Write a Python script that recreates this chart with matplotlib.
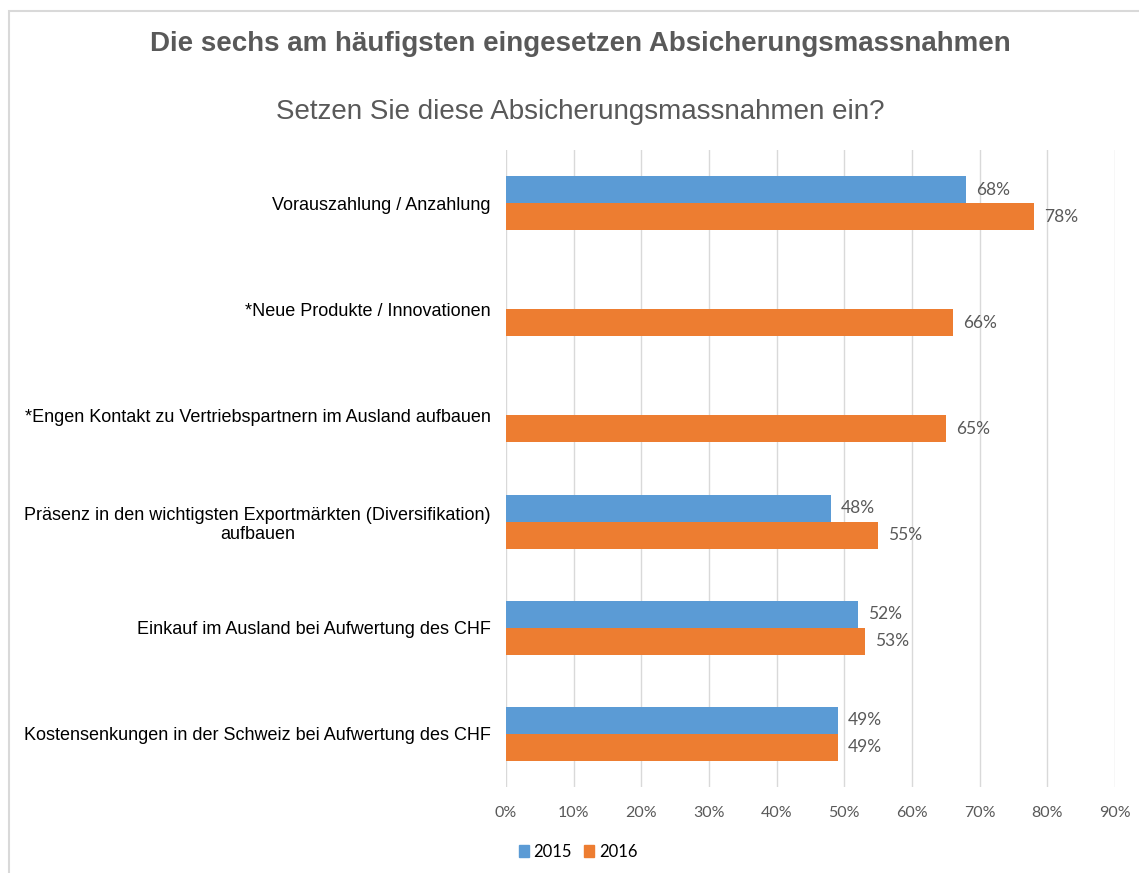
import numpy as np
import matplotlib.pyplot as plt
from matplotlib.patches import Patch, Rectangle

# Daten
kategorien = [
    "Vorauszahlung / Anzahlung",
    "*Neue Produkte / Innovationen",
    "*Engen Kontakt zu Vertriebspartnern im Ausland aufbauen",
    "Präsenz in den wichtigsten Exportmärkten (Diversifikation)\naufbauen",
    "Einkauf im Ausland bei Aufwertung des CHF",
    "Kostensenkungen in der Schweiz bei Aufwertung des CHF",
]
werte_2015 = [0.68, np.nan, np.nan, 0.48, 0.52, 0.49]
werte_2016 = [0.78, 0.66, 0.65, 0.55, 0.53, 0.49]
ticks = [0, 0.1, 0.2, 0.3, 0.4, 0.5, 0.6, 0.7, 0.8, 0.9]

blau = "#5B9BD5"
orange = "#ED7D31"
grau = "#595959"

plt.rcParams["font.family"] = ["Liberation Sans", "DejaVu Sans"]

fig = plt.figure(figsize=(11.39, 8.73), dpi=100)
ax = fig.add_axes([506 / 1139, 1 - 787 / 873, 609 / 1139, 637 / 873])

# Rahmen um das Diagramm
fig.patches.append(Rectangle((9 / 1139, -0.1), 1.2, 1 - 11 / 873 + 0.1,
                             transform=fig.transFigure, fill=False,
                             edgecolor="#D9D9D9", linewidth=1.5))

y = np.arange(len(kategorien))
h = 0.255
ax.barh(y - h / 2, werte_2015, height=h, color=blau)
ax.barh(y + h / 2, werte_2016, height=h, color=orange)

# Datenbeschriftungen
for i in range(len(kategorien)):
    if not np.isnan(werte_2015[i]):
        ax.text(werte_2015[i] + 0.015, y[i] - h / 2, f"{werte_2015[i]:.0%}",
                va="center", ha="left", fontsize=12.5, color=grau, family="Lato")
    ax.text(werte_2016[i] + 0.015, y[i] + h / 2, f"{werte_2016[i]:.0%}",
            va="center", ha="left", fontsize=12.5, color=grau, family="Lato")

ax.set_xlim(0, 0.9)
ax.set_ylim(len(kategorien) - 0.5, -0.5)
ax.set_xticks(ticks)
ax.set_xticklabels([f"{t:.0%}" for t in ticks], family="Lato", fontsize=11.5, color=grau)
ax.set_yticks(y)
ax.set_yticklabels(kategorien, fontsize=13, color="black", multialignment="center")
ax.tick_params(axis="both", length=0)
ax.tick_params(axis="x", pad=14)
ax.tick_params(axis="y", pad=11)
ax.grid(axis="x", color="#D9D9D9", linewidth=1)
ax.set_axisbelow(True)
for s in ax.spines.values():
    s.set_visible(False)

# Titel
fig.text(580 / 1139, 1 - 44 / 873, "Die sechs am häufigsten eingesetzen Absicherungsmassnahmen",
         ha="center", va="center", fontsize=20, fontweight="bold", color=grau)
fig.text(580 / 1139, 1 - 112 / 873, "Setzen Sie diese Absicherungsmassnahmen ein?",
         ha="center", va="center", fontsize=20, color=grau)

# Legende
handles = [Patch(color=blau, label="2015"), Patch(color=orange, label="2016")]
fig.legend(handles=handles, loc="center", bbox_to_anchor=(578 / 1139, 1 - 852 / 873),
           ncol=2, frameon=False, handlelength=0.6, handleheight=0.7,
           handletextpad=0.3, columnspacing=0.7, prop={"family": "Lato", "size": 12})

fig.savefig("out.png", dpi=100)
